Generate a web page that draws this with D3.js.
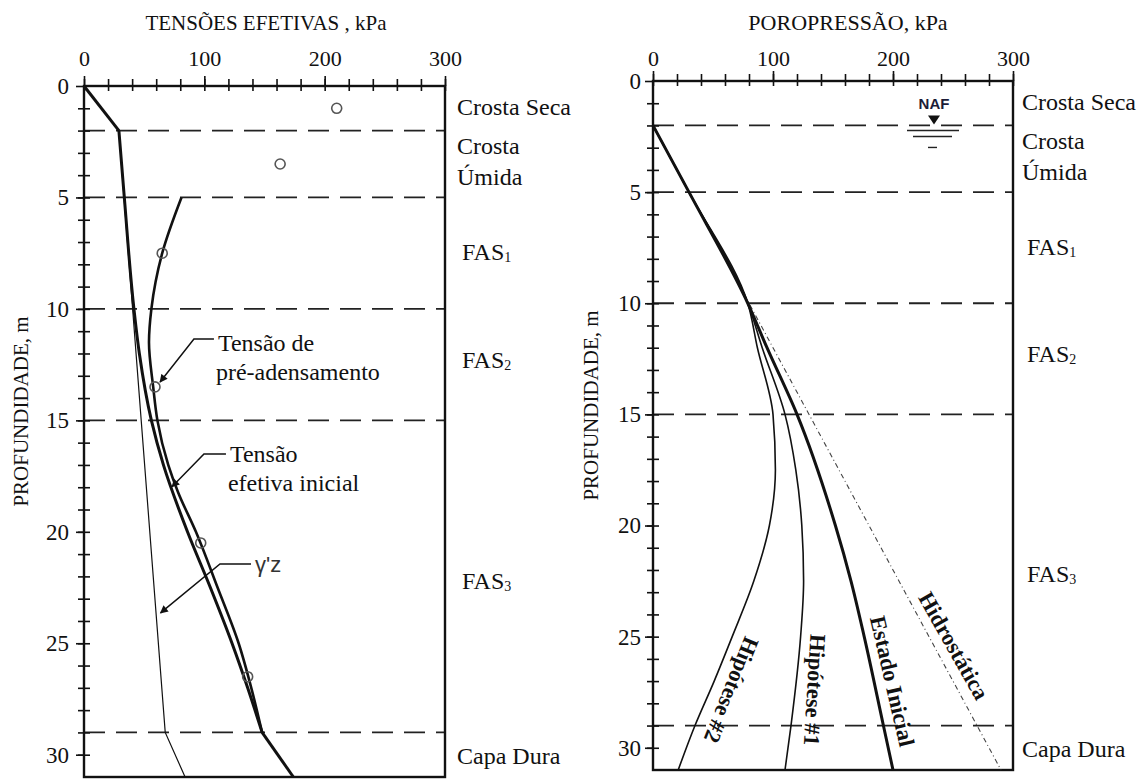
<!DOCTYPE html>
<html>
<head>
<meta charset="utf-8">
<script src="https://cdnjs.cloudflare.com/ajax/libs/d3/7.8.5/d3.min.js"></script>
<style>
  body { margin: 0; background: #fff; }
  svg text { font-family: 'Liberation Serif', 'Times New Roman', serif; fill: #111; }
</style>
</head>
<body>
<div id="chart"></div>
<script>
// axes
const depthTicks = [0, 5, 10, 15, 20, 25, 30];
const depthMinor = d3.range(1, 31);
const kpaTicks = [0, 100, 200, 300];
const kpaMinor = d3.range(0, 301, 20);
const layerBounds = [2, 5, 10, 15, 29];

// layer names on the right of each panel: [text, subscript, depth]
const layerNames = [
  ['Crosta Seca', '', 0.95],
  ['Crosta', '', 2.7],
  ['Úmida', '', 4.1],
  ['FAS', '1', 7.45],
  ['FAS', '2', 12.3],
  ['FAS', '3', 22.2],
  ['Capa Dura', '', 30.05]
];

// left panel, [kPa, depth m]
const sigmaV0 = [[0, 0], [29, 2], [33.5, 5], [41.5, 10], [46, 12], [56, 15], [66, 17], [86, 20],
                 [105, 22.5], [123, 25], [136, 27], [148, 29], [174, 31]];
const sigmaV0Kinks = [2, 29];
const gammaZ = [[0, 0], [29, 2], [67.5, 29], [84, 31]];
const sigmaVm = [[81, 5], [65, 7.5], [56, 10], [54, 11.5], [57.5, 13.5], [61, 15], [70, 17], [78, 18.2],
                 [93, 20], [111, 22.5], [128.5, 25], [139, 27], [148, 29]];
const tests = [[210, 1], [163, 3.5], [65, 7.5], [59, 13.5], [97, 20.5], [136, 26.5]];

// right panel, [kPa, depth m]
const hidrostatica = [[0, 2], [290, 31]];
const estadoInicial = [[0, 2], [30, 5], [79, 10], [95, 12], [120, 15], [152, 20], [165, 22.5],
                       [176, 25], [192, 29], [200, 31]];
const hipotese1 = [[0, 2], [30, 5], [79, 10], [91, 12], [110, 15], [119, 17.5], [124, 20],
                   [125.5, 22.5], [123, 25], [115, 29], [110, 31]];
const hipotese2 = [[0, 2], [30, 5], [79, 10], [87, 12], [100, 15], [102, 17.5], [97, 20],
                   [84, 22.5], [66, 25], [51, 27], [35, 29], [21, 31]];

const width = 1144;
const height = 781;
const svg = d3.select('#chart')
              .append('svg')
              .attr('width', width)
              .attr('height', height);

const defs = svg.append('defs');
defs.append('marker')
    .attr('id', 'arrow')
    .attr('viewBox', '0 0 10 10')
    .attr('refX', 9).attr('refY', 5)
    .attr('markerWidth', 9).attr('markerHeight', 8)
    .attr('markerUnits', 'userSpaceOnUse')
    .attr('orient', 'auto')
    .append('path')
    .attr('d', 'M0,0 L10,5 L0,10 Z')
    .attr('fill', '#111');

const splitAt = (pts, kinks) => {
    const segs = [[]];
    pts.forEach(p => {
        segs[segs.length - 1].push(p);
        if (kinks.includes(p[1])) segs.push([p]);
    });
    return segs.filter(s => s.length > 1);
};

const buildPanel = cfg => {
    const x = d3.scaleLinear().domain([0, 300]).range([cfg.left, cfg.right]);
    const y = d3.scaleLinear().domain([0, 31]).range([cfg.top, cfg.bottom]);
    const g = svg.append('g');

    // layer boundaries
    g.selectAll('.bound')
     .data(layerBounds)
     .enter().append('line')
     .attr('x1', cfg.left).attr('x2', cfg.right)
     .attr('y1', d => y(d)).attr('y2', d => y(d))
     .attr('stroke', '#222')
     .attr('stroke-width', 1.8)
     .attr('stroke-dasharray', '21,11');

    // ticks
    const tickStyle = sel => {
        sel.select('.domain').remove();
        sel.selectAll('line').attr('stroke', '#111').attr('stroke-width', 1.6);
        sel.selectAll('text')
           .attr('fill', '#111')
           .attr('font-family', "'Liberation Serif', 'Times New Roman', serif");
    };
    g.append('g').attr('transform', `translate(0,${cfg.top})`)
     .call(d3.axisTop(x).tickValues(kpaMinor).tickSize(7).tickFormat('')).call(tickStyle);
    g.append('g').attr('transform', `translate(0,${cfg.top})`)
     .call(d3.axisBottom(x).tickValues(kpaMinor).tickSize(5).tickFormat('')).call(tickStyle);
    g.append('g').attr('transform', `translate(0,${cfg.top})`)
     .call(d3.axisTop(x).tickValues(kpaTicks).tickSize(10).tickPadding(cfg.xPad)).call(tickStyle)
     .attr('font-size', 22);
    g.append('g').attr('transform', `translate(${cfg.left},0)`)
     .call(d3.axisLeft(y).tickValues(depthMinor).tickSize(6).tickFormat('')).call(tickStyle);
    g.append('g').attr('transform', `translate(${cfg.left},0)`)
     .call(d3.axisRight(y).tickValues(depthMinor).tickSize(6).tickFormat('')).call(tickStyle);
    g.append('g').attr('transform', `translate(${cfg.left},0)`)
     .call(d3.axisLeft(y).tickValues(depthTicks).tickSize(8).tickPadding(cfg.yPad)).call(tickStyle)
     .attr('font-size', 23);

    // frame
    g.append('rect')
     .attr('x', cfg.left).attr('y', cfg.top)
     .attr('width', cfg.right - cfg.left)
     .attr('height', cfg.bottom - cfg.top)
     .attr('fill', 'none')
     .attr('stroke', '#111')
     .attr('stroke-width', 2.4);

    // titles
    g.append('text')
     .attr('x', cfg.titleX).attr('y', 30)
     .attr('text-anchor', 'middle')
     .attr('font-size', cfg.titleSize)
     .text(cfg.title);
    g.append('text')
     .attr('transform', `translate(${cfg.yLabelX},${(cfg.top + cfg.bottom) / 2 - 20}) rotate(-90)`)
     .attr('text-anchor', 'middle')
     .attr('font-size', 21)
     .text('PROFUNDIDADE, m');

    // layer names
    const names = g.selectAll('.layer')
                   .data(layerNames)
                   .enter().append('text')
                   .attr('x', d => cfg.right + cfg.nameGap + (d[1] ? 5 : 0))
                   .attr('y', d => y(d[2]) + 8)
                   .attr('font-size', 24)
                   .text(d => d[0]);
    names.filter(d => d[1])
         .append('tspan')
         .attr('font-size', 14)
         .attr('dy', 2)
         .text(d => d[1]);

    return {g, x, y};
};

const line = (x, y, curve) => d3.line()
                                .x(d => x(d[0]))
                                .y(d => y(d[1]))
                                .curve(curve);

// ---------- left panel ----------
const L = buildPanel({left: 84, right: 445, top: 86, bottom: 777, xPad: 10, yPad: 7,
                      title: 'TENSÕES EFETIVAS , kPa', titleX: 266, titleSize: 21,
                      yLabelX: 28, nameGap: 12});

L.g.append('path')
   .attr('d', line(L.x, L.y, d3.curveLinear)(gammaZ))
   .attr('fill', 'none').attr('stroke', '#111').attr('stroke-width', 1.2);
splitAt(sigmaV0, sigmaV0Kinks).forEach(seg => {
    L.g.append('path')
       .attr('d', line(L.x, L.y, d3.curveMonotoneY)(seg))
       .attr('fill', 'none').attr('stroke', '#111').attr('stroke-width', 3)
       .attr('stroke-linejoin', 'round');
});
L.g.append('path')
   .attr('d', line(L.x, L.y, d3.curveMonotoneY)(sigmaVm))
   .attr('fill', 'none').attr('stroke', '#111').attr('stroke-width', 2.6);
L.g.selectAll('.test')
   .data(tests)
   .enter().append('circle')
   .attr('cx', d => L.x(d[0]))
   .attr('cy', d => L.y(d[1]))
   .attr('r', 5)
   .attr('fill', 'none')
   .attr('stroke', '#555')
   .attr('stroke-width', 1.6);

// annotations: label position (kPa, depth of first baseline), arrow tip (kPa, depth)
const notes = [
    {lines: ['Tensão de', 'pré-adensamento'], at: [111.3, 11.89], tip: [63.2, 13.28], dy: -12, run: 20, sans: false},
    {lines: ['Tensão', 'efetiva inicial'], at: [121.3, 16.87], tip: [73.1, 17.98], dy: -8, run: 22, sans: false},
    {lines: ["γ'z"], at: [142.1, 21.8], tip: [63.6, 23.64], dy: -8, run: 31, sans: true}
];
notes.forEach(n => {
    const tx = L.x(n.at[0]);
    const ty = L.y(n.at[1]);
    const t = L.g.append('text')
                 .attr('x', tx).attr('y', ty)
                 .attr('font-size', n.sans ? 22 : 24);
    if (n.sans) t.style('font-family', "'Liberation Sans', Arial, sans-serif").style('fill', '#333');
    n.lines.forEach((s, i) => {
        t.append('tspan').attr('x', tx - (i ? 2 : 0)).attr('dy', i ? 29 : 0).text(s);
    });
    const pts = [[tx - 4, ty + n.dy], [tx - 4 - n.run, ty + n.dy], [L.x(n.tip[0]), L.y(n.tip[1])]];
    L.g.append('path')
       .attr('d', d3.line()(pts))
       .attr('fill', 'none')
       .attr('stroke', '#111')
       .attr('stroke-width', 1.5)
       .attr('marker-end', 'url(#arrow)');
});

// ---------- right panel ----------
const R = buildPanel({left: 653, right: 1013, top: 81, bottom: 770, xPad: 5, yPad: 4,
                      title: 'POROPRESSÃO, kPa', titleX: 848, titleSize: 22,
                      yLabelX: 598, nameGap: 9});

R.g.append('path')
   .attr('d', line(R.x, R.y, d3.curveLinear)(hidrostatica))
   .attr('fill', 'none').attr('stroke', '#444').attr('stroke-width', 1.1)
   .attr('stroke-dasharray', '5,3,1,3');
[[hipotese2, 1.6], [hipotese1, 1.6], [estadoInicial, 3]].forEach(([d, w]) => {
    R.g.append('path')
       .attr('d', line(R.x, R.y, d3.curveMonotoneY)(d))
       .attr('fill', 'none').attr('stroke', '#111').attr('stroke-width', w);
});

// curve labels: [text, kPa, depth, angle]
const curveLabels = [
    ['Hipótese #2', 65.6, 27.4, 112],
    ['Hipótese #1', 135, 27.4, 93.5],
    ['Estado Inicial', 199.6, 27.0, 77],
    ['Hidrostática', 250.8, 25.4, 60.5]
];
R.g.selectAll('.clab')
   .data(curveLabels)
   .enter().append('text')
   .attr('transform', d => `translate(${R.x(d[1])},${R.y(d[2])}) rotate(${d[3]})`)
   .attr('text-anchor', 'middle')
   .attr('dy', '0.35em')
   .attr('font-size', 22.5)
   .attr('font-weight', 'bold')
   .text(d => d[0]);

// water table symbol (NAF) at 2 m
const nafX = R.x(235);
const nafY = R.y(2);
R.g.append('text')
   .attr('x', nafX - 1).attr('y', nafY - 16)
   .attr('text-anchor', 'middle')
   .attr('font-size', 15)
   .attr('font-weight', 'bold')
   .style('font-family', "'Liberation Sans', Arial, sans-serif")
   .style('fill', '#1c1c38')
   .text('NAF');
R.g.append('path')
   .attr('d', `M${nafX - 7},${nafY - 10} L${nafX + 5},${nafY - 10} L${nafX - 1},${nafY - 1} Z`)
   .attr('fill', '#111');
[[5, -28, 24], [11, -22, 17], [22, -7, 2]].forEach(([dy, a, b]) => {
    R.g.append('line')
       .attr('x1', nafX + a).attr('x2', nafX + b)
       .attr('y1', nafY + dy).attr('y2', nafY + dy)
       .attr('stroke', '#222').attr('stroke-width', 1.4);
});
</script>
</body>
</html>
